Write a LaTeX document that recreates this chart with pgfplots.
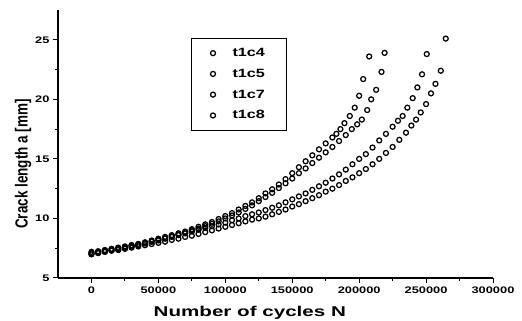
\documentclass[border=0pt]{standalone}
\usepackage{fontspec}
\setmainfont{Liberation Sans}[FakeStretch=1.35]
\newfontfamily\xlfont{Liberation Sans}[FakeStretch=1.45]
\newfontfamily\yfont{Liberation Sans}
\usepackage{pgfplots}
\pgfplotsset{compat=1.18}
\pgfplotsset{circ/.style={black, only marks, mark=o, mark size=2.5pt, line width=1.25pt}}
\begin{document}
\begin{tikzpicture}
\useasboundingbox (-58pt,-43pt) rectangle (464pt,278pt);
\begin{axis}[
  scale only axis, width=435pt, height=268pt,
  xmin=-25000, xmax=300000, ymin=5, ymax=27.5,
  axis lines*=left, axis line style={line width=1.3pt},
  tick align=outside, major tick length=5pt, minor tick length=3pt,
  every tick/.style={line width=1pt, black},
  xtick={0,50000,100000,150000,200000,250000,300000},
  xticklabels={0,50000,100000,150000,200000,250000,300000},
  ytick={5,10,15,20,25},
  yticklabels={5,10,15,20,25},
  minor x tick num=1, minor y tick num=1,
  scaled x ticks=false,
  xticklabel style={font=\bfseries\fontsize{9.5}{10}\selectfont},
  yticklabel style={font=\bfseries\fontsize{9.5}{10}\selectfont},
  xlabel={Number of cycles N},
  xlabel style={font=\xlfont\bfseries\fontsize{14.2}{15}\selectfont, at={(ticklabel cs:0.441)}, yshift=-6pt},
  ylabel={\scalebox{1}[1.3]{\yfont\bfseries\fontsize{13.5}{15}\selectfont Crack length a [mm]}},
  ylabel style={at={(ticklabel cs:0.425)}, yshift=-3pt},
  legend style={at={(rel axis cs:0.306,0.896)}, anchor=north west, draw=black, line width=0.8pt,
    font=\bfseries\fontsize{12}{13}\selectfont, row sep=7pt, inner xsep=19pt, inner ysep=8pt},
  legend cell align=left,
]
\addplot[circ] coordinates {(0,7.1)(5000,7.2)(10000,7.3)(15000,7.4)(20000,7.5)(25000,7.6)(30000,7.75)(35000,7.85)(40000,8.0)(45000,8.15)(50000,8.3)(55000,8.45)(60000,8.6)(65000,8.75)(70000,8.9)(75000,9.1)(80000,9.3)(85000,9.5)(90000,9.7)(95000,9.95)(100000,10.2)(105000,10.45)(110000,10.75)(115000,11.05)(120000,11.35)(125000,11.7)(130000,12.1)(135000,12.45)(140000,12.85)(145000,13.3)(150000,13.8)(155000,14.3)(160000,14.8)(165000,15.3)(170000,15.8)(175000,16.3)(180000,16.8)(183000,17.1)(186000,17.5)(189000,18.0)(193000,18.6)(196700,19.3)(200000,20.3)(203000,21.7)(207500,23.6)};
\addlegendentry{\hspace{15pt}t1c4}
\addplot[circ] coordinates {(0,7.0)(5000,7.1)(10000,7.2)(15000,7.3)(20000,7.4)(25000,7.5)(30000,7.65)(35000,7.75)(40000,7.9)(45000,8.05)(50000,8.2)(55000,8.35)(60000,8.5)(65000,8.65)(70000,8.8)(75000,9.0)(80000,9.15)(85000,9.35)(90000,9.55)(95000,9.75)(100000,10.0)(105000,10.25)(110000,10.5)(115000,10.8)(120000,11.1)(125000,11.45)(130000,11.8)(135000,12.15)(140000,12.55)(145000,12.95)(150000,13.35)(155000,13.8)(160000,14.2)(165000,14.65)(170000,15.1)(175000,15.55)(180000,16.0)(185000,16.5)(190000,17.0)(194500,17.5)(198500,17.9)(202000,18.3)(206000,19.1)(209000,20.0)(212700,20.8)(216700,22.3)(219000,23.9)};
\addlegendentry{\hspace{15pt}t1c5}
\addplot[circ] coordinates {(0,7.2)(5000,7.25)(10000,7.35)(15000,7.45)(20000,7.55)(25000,7.65)(30000,7.75)(35000,7.85)(40000,7.95)(45000,8.05)(50000,8.15)(55000,8.3)(60000,8.45)(65000,8.6)(70000,8.75)(75000,8.9)(80000,9.05)(85000,9.2)(90000,9.35)(95000,9.5)(100000,9.65)(105000,9.85)(110000,10.0)(115000,10.2)(120000,10.35)(125000,10.5)(130000,10.7)(135000,10.9)(140000,11.1)(145000,11.35)(150000,11.6)(155000,11.85)(160000,12.1)(165000,12.4)(170000,12.7)(175000,13.0)(180000,13.35)(185000,13.7)(190000,14.1)(195000,14.55)(200000,15.0)(205000,15.4)(210000,15.95)(215000,16.55)(220000,17.1)(225000,17.7)(229000,18.2)(232500,18.6)(236000,19.3)(240000,20.1)(243500,21.0)(247000,22.1)(250500,23.8)};
\addlegendentry{\hspace{15pt}t1c7}
\addplot[circ] coordinates {(0,7.0)(5000,7.1)(10000,7.2)(15000,7.3)(20000,7.35)(25000,7.45)(30000,7.55)(35000,7.65)(40000,7.75)(45000,7.85)(50000,7.95)(55000,8.05)(60000,8.2)(65000,8.3)(70000,8.45)(75000,8.55)(80000,8.7)(85000,8.85)(90000,9.0)(95000,9.15)(100000,9.3)(105000,9.45)(110000,9.6)(115000,9.75)(120000,9.9)(125000,10.0)(130000,10.15)(135000,10.35)(140000,10.55)(145000,10.75)(150000,11.0)(155000,11.2)(160000,11.45)(165000,11.7)(170000,11.95)(175000,12.25)(180000,12.5)(185000,12.8)(190000,13.15)(195000,13.45)(200000,13.8)(205000,14.15)(210000,14.55)(215000,15.0)(220000,15.5)(225000,16.0)(230000,16.6)(235000,17.2)(239000,17.8)(242500,18.3)(246000,18.9)(250000,19.6)(253700,20.5)(257000,21.3)(261000,22.4)(264700,25.1)};
\addlegendentry{\hspace{15pt}t1c8}
\end{axis}
\end{tikzpicture}
\end{document}
